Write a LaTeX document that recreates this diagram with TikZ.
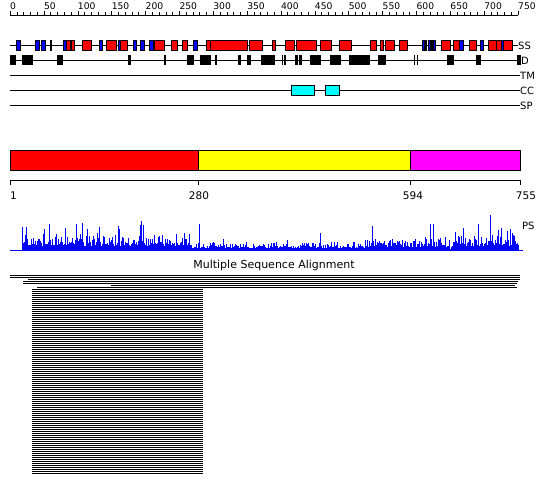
\documentclass[tikz,border=0pt]{standalone}
\usepackage{fontspec}
\setmainfont{DejaVu Sans}
\definecolor{ccfill}{RGB}{0,255,255}
\definecolor{domainc}{RGB}{255,0,255}
\definecolor{domainb}{RGB}{255,255,0}
\definecolor{domaina}{RGB}{255,0,0}

\begin{document}
\begin{tikzpicture}[x=1pt,y=-1pt,font=\fontsize{10}{12}\selectfont,
  track/.style={line width=0.9pt},
  helix/.style={draw=black,fill=red,line width=0.7pt},
  strand/.style={draw=black,fill=blue,line width=0.7pt},
  disorder/.style={fill=black},
  coil/.style={draw=black,fill=ccfill,line width=0.7pt},
  tracklabel/.style={anchor=west,inner sep=0pt},
  psline/.style={blue,line width=0.7pt},
  msarow/.style={line width=1.15pt}]
  \useasboundingbox (0,0) rectangle (550,495);
  % residue ruler
  \draw[track] (10,15) -- (518,15);
  \foreach \tick in {0,10,...,750}
    \draw ({10+0.6773*\tick},15) -- ++(0,-2.5);
  \foreach \tick in {0,50,...,750}{
    \draw ({10+0.6773*\tick},15) -- ++(0,-4);
    \node[anchor=base west,inner sep=0pt,font=\fontsize{9.2}{10}\selectfont] (r\tick) at ({10+0.6773*\tick},9.3) {\tick};
  }
  % SS
  \draw[track] (10,45) -- (518,45);
  \foreach \start/\stop in {66/70,71.7/74.7,82.7/91.7,106.7/116.7,120/127.7,154.3/164.3,171.3/177.7,182.7/187.7,206.7/210,210/247.3,249.3/262.3,272.3/275.7,285.7/294.3,296/316.3,320.7/331.7,339.3/351.7,370.7/376.7,380.3/383.7,385/394.3,399.3/407.7,431/432.3,441.3/450.3,453.7/459.3,469/476.7,488.3/496.7,496.7/501,503.3/512.3}
    \draw[helix] (\start,40) rectangle (\stop,50);
  \foreach \start/\stop in {16.7/20.7,35.7/39.7,41.3/45.3,50/51.7,63.3/66,99.3/102.3,118.3/120,133.3/136.7,140.3/144.7,149/153,193.3/197.7,422.3/424,425.3/426.7,428.3/430,433.3/435,459.3/463.7,480.3/483.3,501/503.3}
    \draw[strand] (\start,40) rectangle (\stop,50);
  \node[tracklabel] (ss) at (518,45.5) {SS};
  % D
  \draw[track] (10,60.5) -- (520,60.5);
  \foreach \start/\stop in {10/15.7,21.7/32.7,57.3/62.7,128.3/130.7,164/166,187.3/193.7,200/210.7,215.3/217,237.7/240.7,247/250.7,261/275,281.7/282.7,284.3/285.7,295/297.7,299.3/302,310/321.3,330/340.7,349/370,377.7/385.7,414/415,416.7/417.7,446.7/454,476/481,517/520.7}
    \fill[disorder] (\start,55.5) rectangle (\stop,65.5);
  \node[tracklabel] (d) at (521,60.5) {D};
  % TM, CC, SP
  \draw[track] (10,75) -- (520,75);
  \node[tracklabel] (tm) at (520,75.5) {TM};
  \draw[track] (10,90.5) -- (520,90.5);
  \foreach \start/\stop in {291/314.3,325.3/339.3}
    \draw[coil] (\start,85.5) rectangle (\stop,95.5);
  \node[tracklabel] (cc) at (520,91) {CC};
  \draw[track] (10,105) -- (520,105);
  \node[tracklabel] (sp) at (520,105.5) {SP};
  % domain bar
  \draw[fill=domaina] (10,150) rectangle (198,170);
  \draw[fill=domainb] (198,150) rectangle (410,170);
  \draw[fill=domainc] (410,150) rectangle (520,170);
  \draw (10,180) -- (520,180);
  \foreach \pos in {10,198,410,520}
    \draw (\pos,180) -- ++(0,5);
  \begin{scope}[font=\fontsize{10.5}{12}\selectfont]
    \node[anchor=base west,inner sep=0pt] (b1) at (10,200) {1};
    \node[anchor=base,inner sep=0pt] (b280) at (199,200) {280};
    \node[anchor=base,inner sep=0pt] (b594) at (413,200) {594};
    \node[anchor=base,inner sep=0pt] (b755) at (526,200) {755};
  \end{scope}
  % PS
  \pgfmathsetseed{11}
  \foreach \res in {19,...,752}{
    \pgfmathsetmacro\amp{\res<267 ? 19 : (\res<525 ? 8 : (\res<651 ? 14 : (\res<656 ? 4 : 19)))}
    \pgfmathsetmacro\height{\amp*(0.22+0.78*rnd*rnd)+(rnd>0.92)*\amp*0.7*rnd}
    \draw[psline] ({10+0.6773*(\res-1)},250) -- ++(0,-\height);
  }
  \foreach \spike/\height in {22.7/23,26.7/23,49/26,76.7/26,82.3/27,87.7/21,99/23,118/24,143/25,199/26,320/17,372/24,430/26,433/26,463/22,478/26,490/35,501/22,507/19}
    \draw[psline] (\spike,250) -- ++(0,-\height);
  \draw[blue,line width=1pt] (10,250) -- (523,250);
  \node[tracklabel] (ps) at (522,226) {PS};
  % alignment
  \node[font=\fontsize{11}{13}\selectfont] (msa) at (274,265) {Multiple Sequence Alignment};
  \foreach \row/\start/\stop in {275.5/10/520,277.5/10/520,279.5/28/520,281.5/23/518,283.5/23/517,285.5/111/515,287.5/37/517}
    \draw[msarow] (\start,\row) -- (\stop,\row);
  \foreach \row in {289.5,291.5,...,473.5}
    \draw[msarow] (32,\row) -- (203,\row);
\end{tikzpicture}
\end{document}
